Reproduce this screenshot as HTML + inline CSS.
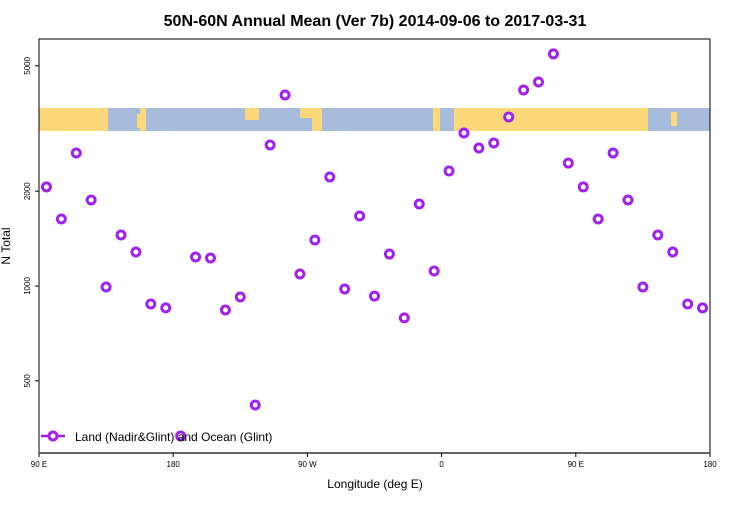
<!DOCTYPE html>
<html><head><meta charset="utf-8"><style>
body{margin:0;background:#fff;font-family:"Liberation Sans",sans-serif}
</style></head><body>
<svg width="750" height="500" xmlns="http://www.w3.org/2000/svg" font-family="Liberation Sans, sans-serif">
<rect width="750" height="500" fill="#fff"/>
<text x="375" y="26" text-anchor="middle" font-size="16" font-weight="bold">50N-60N Annual Mean (Ver 7b)   2014-09-06 to 2017-03-31</text>
<g>
<rect x="39" y="108" width="671" height="23" fill="#fdd878"/>
<rect x="108" y="108" width="32" height="23" fill="#a7bcdc"/>
<rect x="146" y="108" width="154" height="23" fill="#a7bcdc"/>
<rect x="322" y="108" width="111" height="23" fill="#a7bcdc"/>
<rect x="440" y="108" width="14" height="23" fill="#a7bcdc"/>
<rect x="648" y="108" width="62" height="23" fill="#a7bcdc"/>
<rect x="137" y="114" width="5" height="14" fill="#fdd878"/>
<rect x="671" y="112" width="6" height="14" fill="#fdd878"/>
<rect x="245" y="108" width="14" height="12" fill="#fdd878"/>
<rect x="300" y="118" width="12" height="13" fill="#a7bcdc"/>
</g>
<rect x="39" y="39" width="671" height="414" fill="none" stroke="#000" stroke-width="1"/>
<line x1="39" y1="453" x2="710" y2="453" stroke="#666" stroke-width="2"/>
<g id="yaxis"></g>
<g id="xaxis"></g>
<text transform="translate(10,246) rotate(-90)" text-anchor="middle" font-size="12">N Total</text>
<text x="375" y="488" text-anchor="middle" font-size="12">Longitude (deg E)</text>
<g id="pts"></g>
<g>
<line x1="41" y1="436" x2="65" y2="436" stroke="#a020f0" stroke-width="2.5"/>
<circle cx="53" cy="436" r="4" fill="#fff" stroke="#a020f0" stroke-width="3"/>
<text x="75" y="441" font-size="12">Land (Nadir&amp;Glint) and Ocean (Glint)</text>
</g>
</svg>
<script>
const lons=[95,105,115,125,135,145,155,165,175,185,195,205,215,225,235,245,255,265,275,285,295,305,315,325,335,345,355,365,375,385,395,405,415,425,435,445];
const values=[2063,1632,2644,1875,993,1452,1282,877,852,334,1236,1227,839,923,419,2803,4040,1092,1400,2218,978,1668,929,1263,792,1821,1116,2317,3060,2742,2845,3441,4190,4443,5454,2456];
const yTicks=[500,1000,2000,5000];
const xTicks=[90,180,270,360,450,540];
const xTickLabels=["90 E","180","90 W","0","90 E","180"];
const NS="http://www.w3.org/2000/svg";
const xs=l=>39+(l-90)*671/450;
const ys=v=>286-315*Math.log10(v/1000);
function mk(t,a,p){const e=document.createElementNS(NS,t);for(const k in a)e.setAttribute(k,a[k]);p.appendChild(e);return e;}
const ya=document.getElementById('yaxis');
yTicks.forEach(v=>{const y=ys(v);
 mk('line',{x1:35,y1:y,x2:39,y2:y,stroke:'#000'},ya);
 const t=mk('text',{transform:`translate(30,${y}) rotate(-90)`,'text-anchor':'middle','font-size':8},ya);
 t.textContent=v;
 
 });
const xa=document.getElementById('xaxis');
xTicks.forEach((l,i)=>{const x=xs(l);
 mk('line',{x1:x,y1:453,x2:x,y2:457,stroke:'#000'},xa);
 const t=mk('text',{x:x,y:467,'text-anchor':'middle','font-size':8},xa);
 t.textContent=xTickLabels[i];
 
 });
const pg=document.getElementById('pts');
function pt(l,v){const c=mk('circle',{cx:xs(l),cy:ys(v),r:4,fill:'#fff',stroke:'#a020f0','stroke-width':3},pg);
 
 }
lons.forEach((l,i)=>{pt(l,values[i]);if(l+360<=540)pt(l+360,values[i]);});
</script>
</body></html>
